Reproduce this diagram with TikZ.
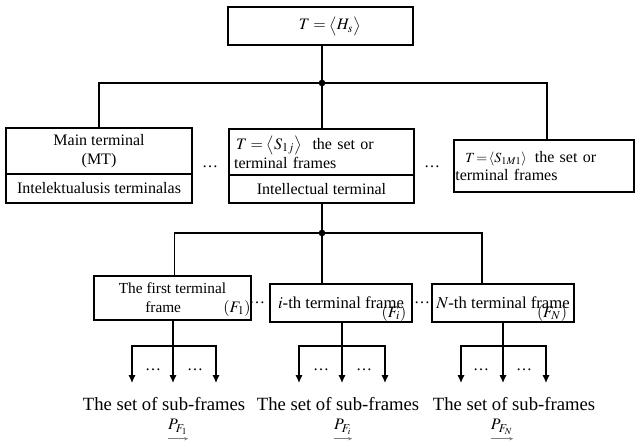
\documentclass[tikz,border=0pt]{standalone}
\usepackage{amsmath}
\usepackage{mathptmx}
\usepackage{fontspec}
\setmainfont{Liberation Serif}
\usetikzlibrary{positioning,calc,arrows.meta}

\begin{document}
\begin{tikzpicture}[x=0.75pt, y=-0.75pt,
    every node/.style={font=\fontsize{12}{14}\selectfont},
    frame/.style={draw, line width=0.9pt, inner sep=2pt, align=center},
    wire/.style={line width=0.9pt},
    down/.style={wire, -{Latex[length=6pt,width=5.5pt]}},
    dot/.style={circle, fill, inner sep=0pt, minimum size=5pt},
    dots/.style={inner sep=0pt},
    tag/.style={inner sep=0pt},
    subset/.style={inner sep=0pt, font=\fontsize{14}{16}\selectfont},
    plabel/.style={inner sep=0pt, font=\fontsize{12}{14}\selectfont},
    under/.style={gray, line width=0.6pt, -{Stealth[length=3pt,width=2.5pt]}}]

    \useasboundingbox (0,0) rectangle (635,445);

    % top frame
    \node[frame, minimum width=138.75pt, minimum height=28.5pt] (top) at (320.5,26) {\hspace*{14pt}$T=\bigl\langle H_s\bigr\rangle$};

    % terminals
    \node[frame, minimum width=139.5pt, minimum height=34.5pt] (mt) at (99,151) {Main terminal\\(MT)};
    \node[frame, minimum width=139.5pt, minimum height=21.75pt] (mtlow) at (99,188.5) {Intelektualusis terminalas};
    \node[frame, minimum width=138.75pt, minimum height=34.5pt, align=left, text width=131pt, inner xsep=3pt] (mid) at (321.5,152) {\hspace*{1.5pt}$T=\bigl\langle S_{1j}\bigr\rangle$\hspace{4pt} the set or\\terminal frames};
    \node[frame, minimum width=138.75pt, minimum height=21pt] (midlow) at (321.5,189) {Intellectual terminal};
    \node[frame, minimum width=135pt, minimum height=39pt, align=left, text width=133pt, inner xsep=1pt] (rt) at (544,166) {\hspace*{7.5pt}{\fontsize{10.5}{12}\selectfont$T\!=\!\langle S_{1M1}\rangle$}\hspace{6pt}the set or\\terminal frames};

    \node[dots] (d1) at (210,167) {\dots};
    \node[dots] (d2) at (432,167) {\dots};

    \coordinate (j1) at (322,83);
    \draw[wire] (top.south -| j1) -- (j1);
    \draw[wire] (mt.north) |- (j1) -| ([xshift=2.25pt]rt.north);
    \draw[wire] (j1) -- (j1 |- mid.north);
    \node[dot] (j1dot) at (j1) {};

    % terminal frames
    \node[frame, minimum width=117.75pt, minimum height=33pt, font=\fontsize{11.5}{14}\selectfont] (f1) at (172.5,298) {The first terminal\\frame\hspace*{14pt}};
    \node[frame, minimum width=106.5pt, minimum height=28.5pt, inner xsep=0pt, font=\fontsize{12.5}{14}\selectfont] (f2) at (341,303) {$i$-th terminal frame};
    \node[frame, minimum width=106.5pt, minimum height=28.5pt, inner xsep=0pt, font=\fontsize{12.5}{14}\selectfont] (f3) at (503,303) {$N$-th terminal frame};
    \node[tag] (f1tag) at (237,308) {$(F_1)$};
    \node[tag] (f2tag) at (394,313) {$(F_i)$};
    \node[tag] (f3tag) at (552,313) {$(F_N)$};

    \node[dots] (d3) at (257,303) {\dots};
    \node[dots] (d4) at (422,303) {\dots};

    \coordinate (j2) at (322,233);
    \draw[wire] (midlow.south -| j2) -- (j2);
    \draw[wire] ([xshift=1.5pt]f1.north) |- (j2) -| ([xshift=-15.75pt]f3.north);
    \draw[wire] (j2) -- (j2 |- f2.north);
    \node[dot] (j2dot) at (j2) {};

    % sub-frames
    \coordinate (k1) at (173,346);
    \coordinate (k2) at (342,346);
    \coordinate (k3) at (503,346);
    \draw[wire] (f1.south -| k1) -- (k1);
    \draw[wire] (f2.south -| k2) -- (k2);
    \draw[wire] (f3.south) -- (k3);

    \draw[down] (k1) -- ++(0,37);
    \draw[down] (k1) -- ++(-41,0) -- ++(0,37);
    \draw[down] (k1) -- ++(43,0) -- ++(0,37);
    \draw[down] (k2) -- ++(0,37);
    \draw[down] (k2) -- ++(-43,0) -- ++(0,37);
    \draw[down] (k2) -- ++(43,0) -- ++(0,37);
    \draw[down] (k3) -- ++(0,37);
    \draw[down] (k3) -- ++(-42,0) -- ++(0,37);
    \draw[down] (k3) -- ++(43,0) -- ++(0,37);

    \node[dots] (d11) at (153,370) {\dots};
    \node[dots] (d12) at (195,370) {\dots};
    \node[dots] (d21) at (321,370) {\dots};
    \node[dots] (d22) at (364,370) {\dots};
    \node[dots] (d31) at (481,370) {\dots};
    \node[dots] (d32) at (524,370) {\dots};

    \node[subset] (s1) at (164,404) {The set of sub-frames};
    \node[subset] (s2) at (338,404) {The set of sub-frames};
    \node[subset] (s3) at (514,404) {The set of sub-frames};

    \node[plabel] (p1) at (178,427) {$P_{F_1}$};
    \node[plabel] (p2) at (343,427) {$P_{F_i}$};
    \node[plabel] (p3) at (502,427) {$P_{F_N}$};
    \draw[under] ([yshift=-3pt]p1.south west) -- ([yshift=-3pt]p1.south east);
    \draw[under] ([yshift=-3pt]p2.south west) -- ([yshift=-3pt]p2.south east);
    \draw[under] ([yshift=-3pt]p3.south west) -- ([yshift=-3pt]p3.south east);
\end{tikzpicture}
\end{document}
